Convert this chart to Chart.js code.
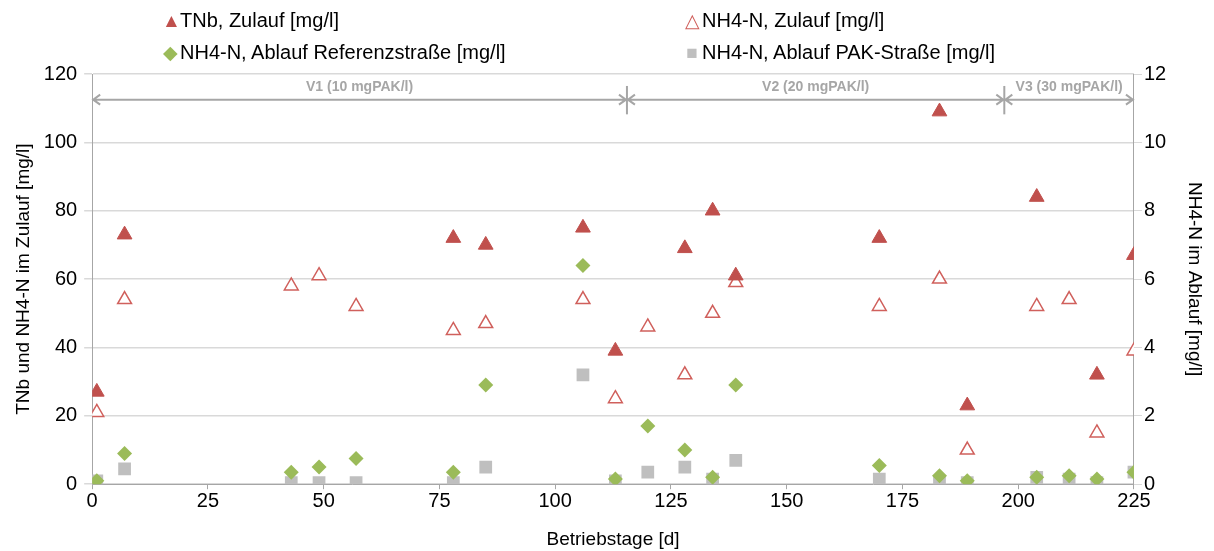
<!DOCTYPE html>
<html>
<head>
<meta charset="utf-8">
<script src="https://cdn.jsdelivr.net/npm/chart.js@4"></script>
<style>
  body { margin: 0; background: #fff; font-family: "Liberation Sans", Arial, sans-serif; }
  #wrap { position: relative; width: 1214px; height: 551px; }
  #legend { position: absolute; left: 0; top: 0; width: 1214px; height: 70px; font-size: 20px; color: #000; }
  .item { position: absolute; white-space: nowrap; line-height: 24px; }
  .mk { display: inline-block; width: 16px; text-align: center; margin-right: 2px; }
</style>
</head>
<body>
<div id="wrap">
  <canvas id="myChart" width="1214" height="551"></canvas>
  <div id="legend"></div>
</div>
<script>
// data
const tnbDays = [1, 7, 78, 85, 106, 113, 128, 134, 139, 170, 183, 189, 204, 217, 225];
const tnbZulauf = [27, 73, 72, 70, 75, 39, 69, 80, 61, 72, 109, 23, 84, 32, 67];

const nh4Days = [1, 7, 43, 49, 57, 78, 85, 106, 113, 120, 128, 134, 139, 170, 183, 189, 204, 211, 217, 225];
const nh4Zulauf = [21, 54, 58, 61, 52, 45, 47, 54, 25, 46, 32, 50, 59, 52, 60, 10, 52, 54, 15, 39];
const nh4AblaufRef = [0.1, 0.9, 0.35, 0.5, 0.75, 0.35, 2.9, 6.4, 0.15, 1.7, 1.0, 0.2, 2.9, 0.55, 0.25, 0.1, 0.2, 0.25, 0.15, 0.35];
const nh4AblaufPak = [0.1, 0.45, 0.05, 0.05, 0.05, 0.05, 0.5, 3.2, 0.1, 0.35, 0.5, 0.15, 0.7, 0.15, 0.05, 0.05, 0.2, 0.15, 0.05, 0.35];

// phases (Versuchsphasen)
const phaseBounds = [0, 115.5, 197, 225];
const phaseLabels = ['V1 (10 mgPAK/l)', 'V2 (20 mgPAK/l)', 'V3 (30 mgPAK/l)'];

const red = '#C0504D';
const green = '#9BBB59';
const grey = '#BFBFBF';

function pts(xs, ys) {
    return xs.map((x, i) => ({ x: x, y: ys[i] }));
}

// arrows + labels for the phases
const phasePlugin = {
    id: 'phases',
    beforeDatasetsDraw(chart) {
        const ctx = chart.ctx;
        const xs = chart.scales.x;
        const ys = chart.scales.y;
        const yA = ys.getPixelForValue(112.5);
        ctx.save();
        ctx.strokeStyle = '#a6a6a6';
        ctx.lineWidth = 2;
        for (let i = 0; i < phaseBounds.length - 1; i++) {
            const x1 = xs.getPixelForValue(phaseBounds[i]);
            const x2 = xs.getPixelForValue(phaseBounds[i + 1]);
            ctx.beginPath();
            ctx.moveTo(x1, yA);
            ctx.lineTo(x2, yA);
            // heads
            ctx.moveTo(x1 + 8, yA - 5); ctx.lineTo(x1 + 1, yA); ctx.lineTo(x1 + 8, yA + 5);
            ctx.moveTo(x2 - 8, yA - 5); ctx.lineTo(x2 - 1, yA); ctx.lineTo(x2 - 8, yA + 5);
            ctx.stroke();
            ctx.fillStyle = '#a6a6a6';
            ctx.font = 'bold 14px "Liberation Sans", Arial, sans-serif';
            ctx.textAlign = 'center';
            ctx.textBaseline = 'middle';
            ctx.fillText(phaseLabels[i], (x1 + x2) / 2, ys.getPixelForValue(116.3));
        }
        // separators
        for (let i = 1; i < phaseBounds.length - 1; i++) {
            const x = xs.getPixelForValue(phaseBounds[i]);
            ctx.beginPath();
            ctx.moveTo(x, ys.getPixelForValue(116.5));
            ctx.lineTo(x, ys.getPixelForValue(108.2));
            ctx.stroke();
        }
        ctx.restore();
    }
};

const chart = new Chart(document.getElementById('myChart'), {
    type: 'scatter',
    data: {
        datasets: [{
            label: 'TNb, Zulauf [mg/l]',
            data: pts(tnbDays, tnbZulauf),
            pointStyle: 'triangle',
            pointRadius: 8.5,
            backgroundColor: red,
            borderColor: red,
            borderWidth: 1,
            yAxisID: 'y'
        }, {
            label: 'NH4-N, Zulauf [mg/l]',
            data: pts(nh4Days, nh4Zulauf),
            pointStyle: 'triangle',
            pointRadius: 8,
            backgroundColor: '#ffffff',
            borderColor: '#D0605C',
            borderWidth: 1.5,
            yAxisID: 'y'
        }, {
            label: 'NH4-N, Ablauf Referenzstraße [mg/l]',
            data: pts(nh4Days, nh4AblaufRef),
            pointStyle: 'rectRot',
            pointRadius: 7.5,
            backgroundColor: green,
            borderColor: green,
            borderWidth: 0,
            yAxisID: 'y2'
        }, {
            label: 'NH4-N, Ablauf PAK-Straße [mg/l]',
            data: pts(nh4Days, nh4AblaufPak),
            pointStyle: 'rect',
            pointRadius: 9,
            backgroundColor: grey,
            borderColor: grey,
            borderWidth: 0,
            yAxisID: 'y2'
        }]
    },
    options: {
        responsive: false,
        animation: false,
        layout: { padding: { top: 74, left: 0, right: 0, bottom: 0 } },
        plugins: {
            legend: { display: false },
            tooltip: { enabled: false }
        },
        scales: {
            x: {
                type: 'linear',
                min: 0,
                max: 225,
                border: { color: '#a6a6a6', width: 1 },
                grid: { drawOnChartArea: false, drawTicks: true, tickLength: 5, color: '#a6a6a6' },
                ticks: { stepSize: 25, color: '#000', font: { size: 20, family: '"Liberation Sans", Arial' }, padding: 0 },
                title: { display: true, text: 'Betriebstage [d]', color: '#000', font: { size: 19, family: '"Liberation Sans", Arial' }, padding: { top: 15, bottom: 0 } }
            },
            y: {
                position: 'left',
                min: 0,
                max: 120,
                border: { color: '#a6a6a6', width: 1 },
                grid: { color: '#d9d9d9', lineWidth: 1.5, tickLength: 8 },
                ticks: { stepSize: 20, color: '#000', font: { size: 20, family: '"Liberation Sans", Arial' }, padding: 7 },
                title: { display: true, text: 'TNb und NH4-N im Zulauf [mg/l]', color: '#000', font: { size: 19, family: '"Liberation Sans", Arial' }, padding: { top: 12, bottom: 2 } }
            },
            y2: {
                position: 'right',
                min: 0,
                max: 12,
                border: { color: '#a6a6a6', width: 1 },
                grid: { drawOnChartArea: false, tickLength: 8, color: '#d9d9d9' },
                ticks: { stepSize: 2, color: '#000', font: { size: 20, family: '"Liberation Sans", Arial' }, padding: 2 },
                title: { display: true, text: 'NH4-N im Ablauf [mg/l]', color: '#000', font: { size: 19, family: '"Liberation Sans", Arial' }, padding: { top: 8, bottom: 15 } }
            }
        }
    },
    plugins: [phasePlugin]
});

// legend in two columns like the original
const legendItems = [
    { mk: '▲', color: red, left: 162, top: 8 },
    { mk: '△', color: '#D0605C', left: 684, top: 8 },
    { mk: '◆', color: green, left: 162, top: 40 },
    { mk: '■', color: grey, left: 684, top: 40 }
];
const legendBox = document.getElementById('legend');
chart.data.datasets.forEach((ds, i) => {
    const it = legendItems[i];
    const div = document.createElement('div');
    div.className = 'item';
    div.style.left = it.left + 'px';
    div.style.top = it.top + 'px';
    div.innerHTML = '<span class="mk" style="color:' + it.color + ';font-size:19px">' + it.mk + '</span>' + ds.label;
    legendBox.appendChild(div);
});
</script>
</body>
</html>
